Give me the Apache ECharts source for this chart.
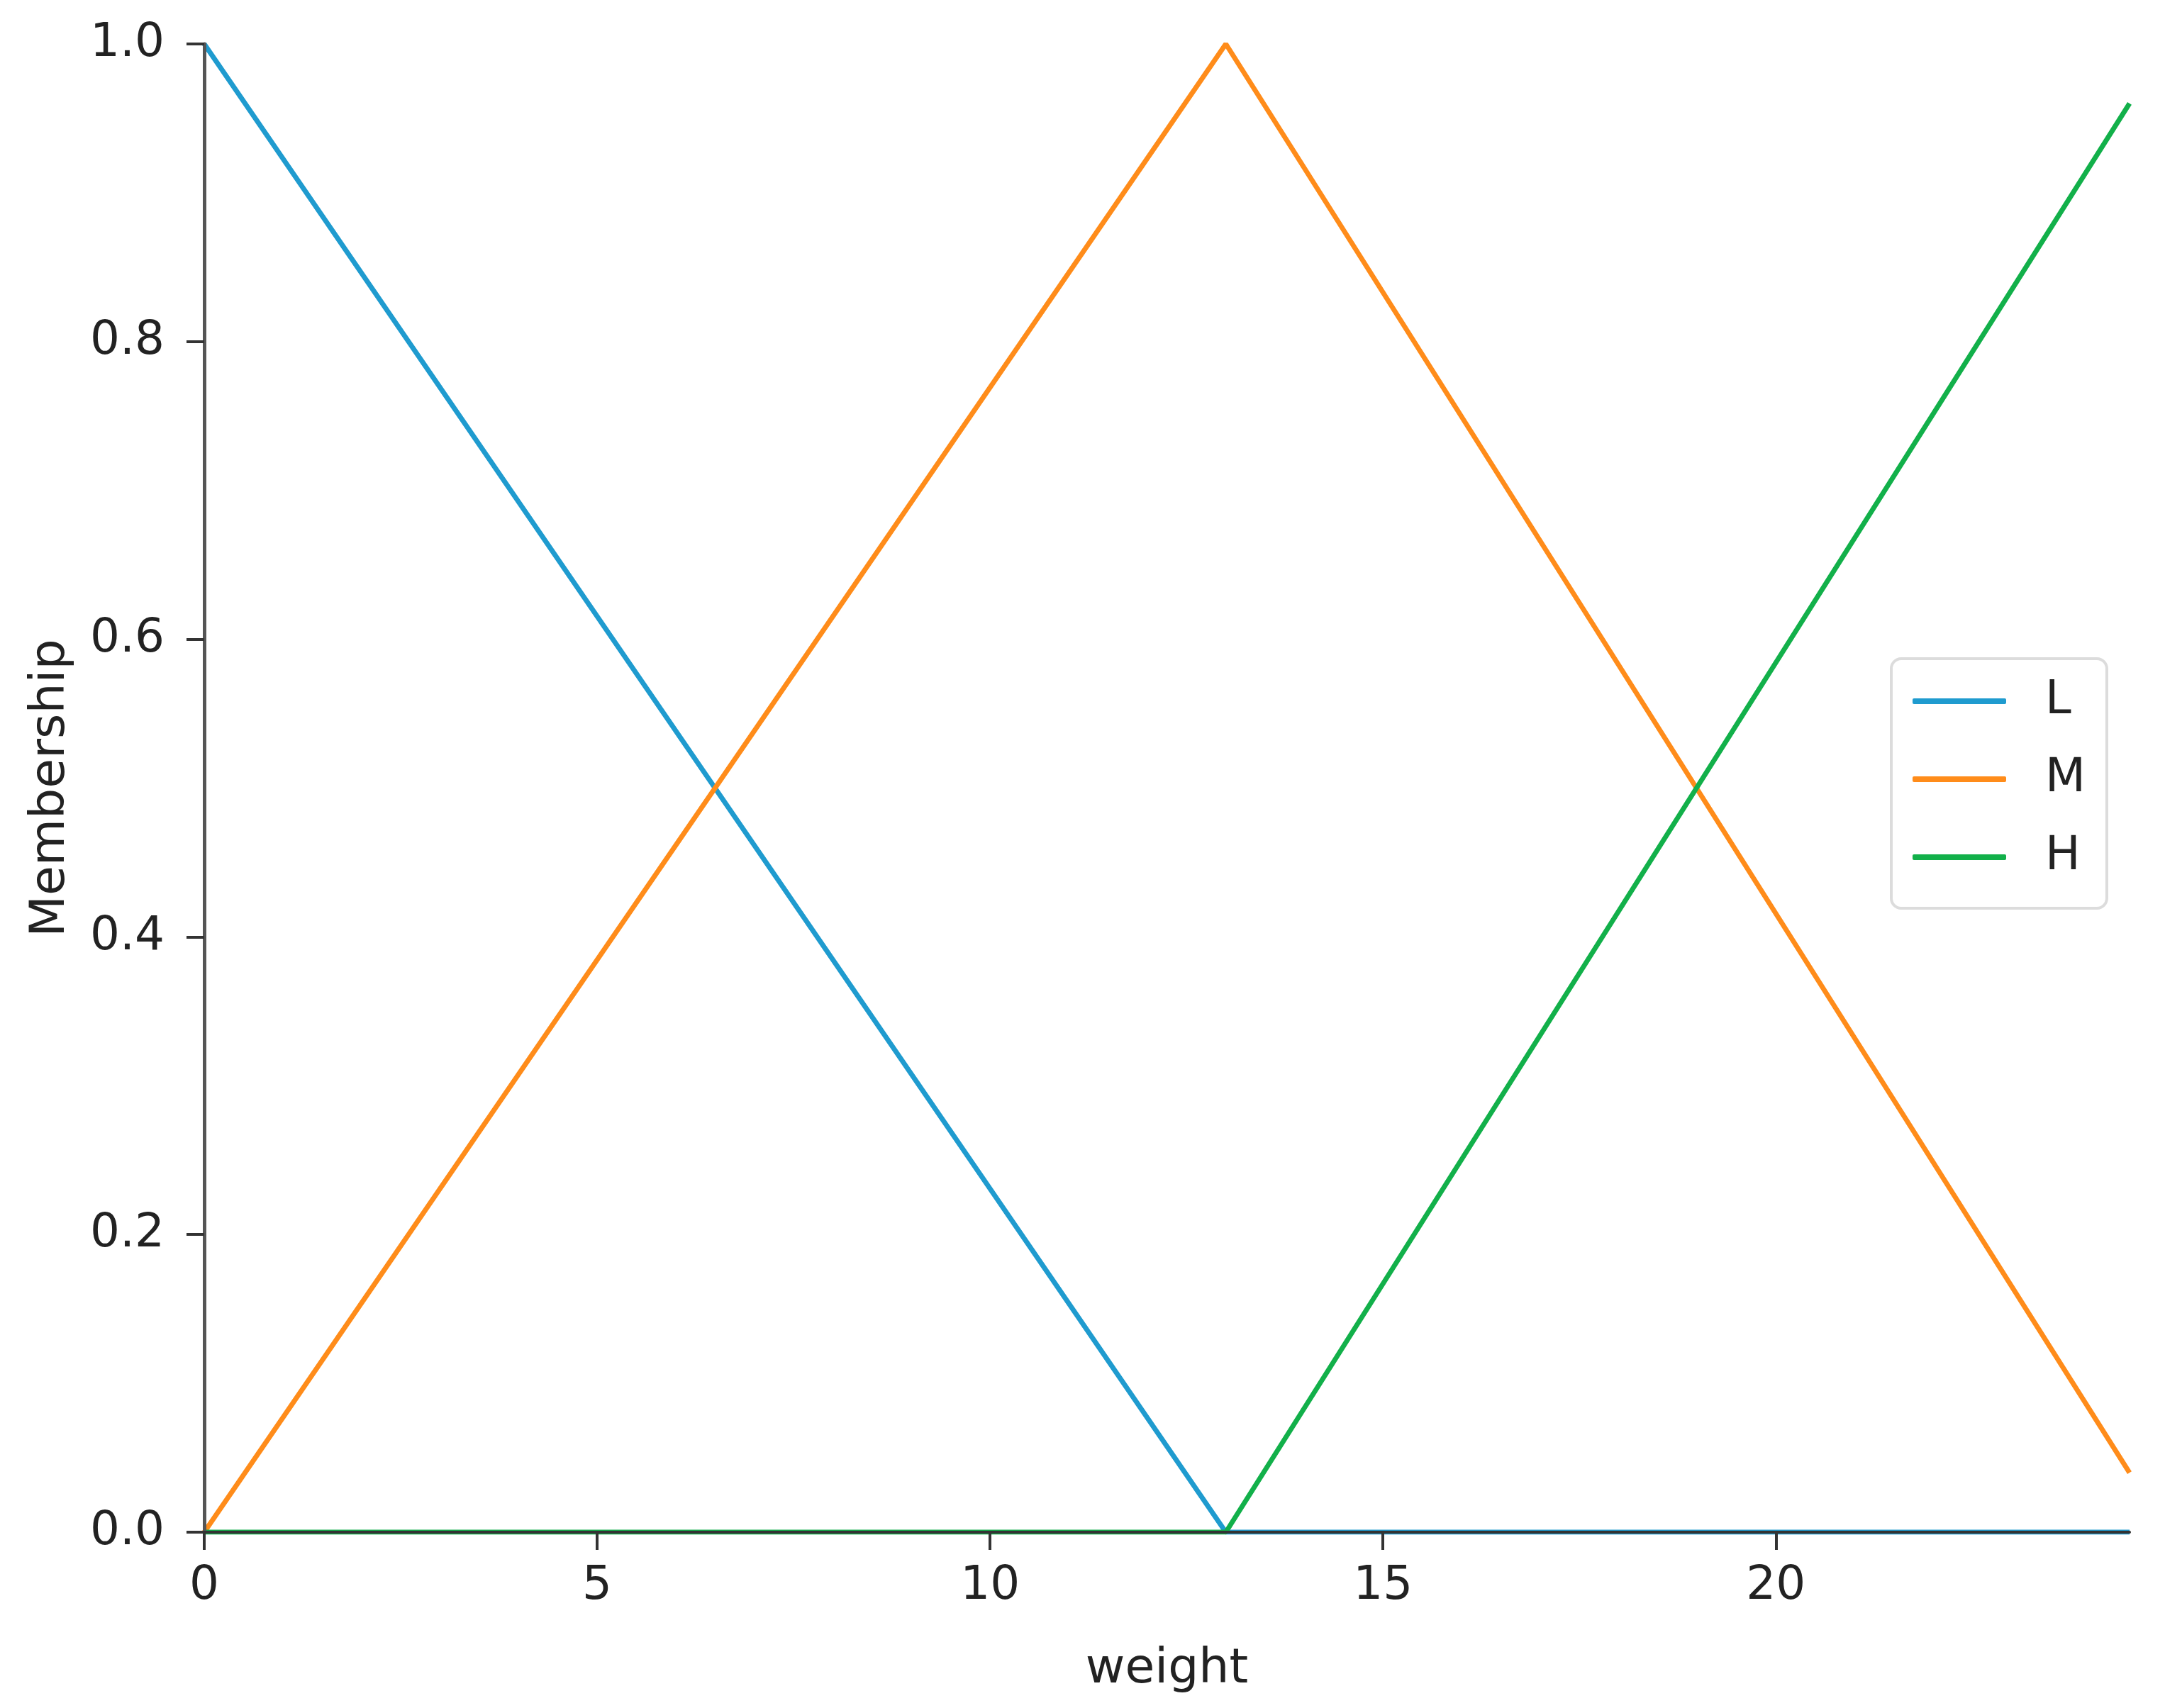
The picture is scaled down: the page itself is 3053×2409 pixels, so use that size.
<!DOCTYPE html>
<html>
<head>
  <meta charset="utf-8">
  <script src="https://cdn.jsdelivr.net/npm/echarts@6/dist/echarts.min.js"></script>
  <style>
    html, body { margin: 0; padding: 0; background: #fff; }
    #main { width: 3053px; height: 2409px; }
  </style>
</head>
<body>
<div id="main"></div>
<script>
  // membership functions (breakpoints only)
  const seriesNames = ['L', 'M', 'H'];
  const lowPoints = [[0, 1], [13, 0], [24.5, 0]];
  const midPoints = [[0, 0], [13, 1], [24.5, 0.04]];
  const highPoints = [[0, 0], [13, 0], [24.5, 0.96]];
  const xTicks = [0, 5, 10, 15, 20];
  const yTicks = [0, 0.2, 0.4, 0.6, 0.8, 1.0];

  const colors = ['#1f9bcf', '#ff8c1a', '#12b04a'];
  const font = 'DejaVu Sans';

  let myChart = echarts.init(document.getElementById('main'));

  function makeLine(name, data, color) {
    return {
      name: name,
      type: 'line',
      data: data,
      showSymbol: false,
      animation: false,
      lineStyle: { color: color, width: 7 },
      itemStyle: { color: color },
      z: 2
    };
  }

  let option = {
    backgroundColor: '#fff',
    animation: false,
    grid: { left: 288, right: 50, top: 62, bottom: 248, containLabel: false },
    xAxis: {
      type: 'value',
      min: 0,
      max: 24.5,
      name: 'weight',
      nameLocation: 'middle',
      nameGap: 160,
      nameTextStyle: { fontFamily: font, fontSize: 68, color: '#222' },
      z: 5,
      axisLine: { show: true, lineStyle: { color: '#333', width: 4 } },
      axisTick: { show: true, length: 25, customValues: xTicks, lineStyle: { color: '#333', width: 4 } },
      axisLabel: {
        customValues: xTicks,
        margin: 44,
        fontFamily: font, fontSize: 66, color: '#222'
      },
      splitLine: { show: false }
    },
    yAxis: {
      type: 'value',
      min: 0,
      max: 1,
      name: 'Membership',
      nameLocation: 'middle',
      nameGap: 182,
      nameTextStyle: { fontFamily: font, fontSize: 68, color: '#222' },
      z: 5,
      axisLine: { show: true, lineStyle: { color: '#555', width: 5 } },
      axisTick: { show: true, length: 25, customValues: yTicks, lineStyle: { color: '#333', width: 4 } },
      axisLabel: {
        customValues: yTicks,
        margin: 56,
        formatter: function (v) { return v.toFixed(1); },
        fontFamily: font, fontSize: 66, color: '#222'
      },
      splitLine: { show: false }
    },
    legend: {
      data: seriesNames.map(function (n, i) {
        return { name: n, icon: 'roundRect', itemStyle: { color: colors[i] } };
      }),
      orient: 'vertical',
      left: 2667,
      top: 929,
      padding: [27, 30, 39, 30],
      itemWidth: 132,
      itemHeight: 8,
      itemGap: 44,
      backgroundColor: '#fff',
      borderColor: '#dcdcdc',
      borderWidth: 4,
      borderRadius: 14,
      textStyle: { fontFamily: font, fontSize: 66, color: '#222', padding: [0, 0, 0, 50] }
    },
    series: [
      makeLine(seriesNames[0], lowPoints, colors[0]),
      makeLine(seriesNames[1], midPoints, colors[1]),
      makeLine(seriesNames[2], highPoints, colors[2])
    ]
  };
  myChart.setOption(option);
</script>
</body>
</html>
